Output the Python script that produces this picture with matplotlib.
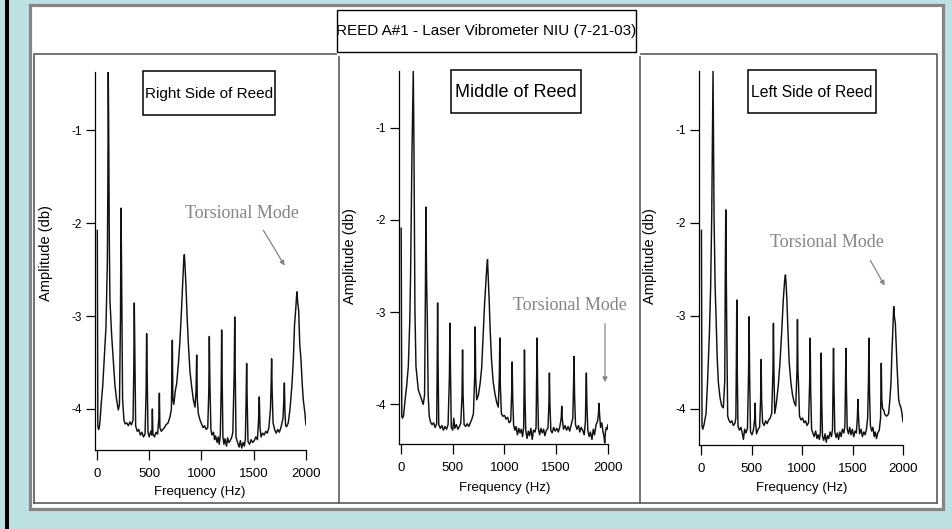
import matplotlib
matplotlib.use('Agg')
import matplotlib.pyplot as plt
from matplotlib.patches import Rectangle, FancyArrowPatch
from matplotlib.lines import Line2D

# spectra: (frequency Hz, amplitude db)
right_trace = [
    (3, -2.08), (8, -4.18), (15, -4.22), (22, -4.20), (30, -4.12), (40, -3.95), (55, -3.75),
    (70, -3.45), (86, -3.12), (95, -2.6), (99, -2.43), (104, -1.6), (108, -0.37), (112, -1.0),
    (118, -2.2), (124, -2.83), (140, -3.2), (156, -3.47), (172, -3.75), (188, -3.90), (204, -4.01),
    (215, -3.95), (225, -3.0), (230, -1.84), (236, -2.6), (245, -3.9), (258, -4.12), (270, -4.16),
    (285, -4.15), (300, -4.18), (315, -4.14), (330, -4.17), (345, -4.12), (352, -3.6), (357, -2.86),
    (362, -3.4), (370, -4.18), (385, -4.24), (400, -4.22), (415, -4.28), (430, -4.25), (445, -4.30),
    (460, -4.27), (470, -3.8), (475, -3.19), (480, -3.6), (488, -4.25), (500, -4.30), (515, -4.24),
    (525, -4.28), (530, -4.0), (535, -4.27), (550, -4.30), (565, -4.25), (580, -4.27), (592, -4.1),
    (597, -3.83), (602, -4.2), (615, -4.24), (630, -4.22), (645, -4.20), (660, -4.17), (680, -4.15),
    (700, -4.08), (712, -4.0), (717, -3.6), (721, -3.26), (726, -3.9), (735, -3.95), (750, -3.80),
    (762, -3.73), (780, -3.50), (794, -3.26), (808, -2.95), (820, -2.65), (830, -2.4), (836, -2.34),
    (842, -2.45), (852, -2.69), (862, -3.0), (874, -3.29), (890, -3.6), (906, -3.76), (922, -3.9),
    (938, -3.98), (948, -3.8), (954, -3.42), (960, -3.9), (970, -4.05), (986, -4.12), (1000, -4.16),
    (1015, -4.20), (1030, -4.18), (1045, -4.22), (1060, -4.20), (1070, -3.8), (1075, -3.22),
    (1080, -3.7), (1090, -4.22), (1100, -4.28), (1115, -4.25), (1125, -4.33), (1135, -4.29),
    (1150, -4.36), (1160, -4.30), (1170, -4.38), (1180, -4.28), (1188, -3.8), (1193, -3.15),
    (1198, -3.7), (1205, -4.30), (1215, -4.38), (1225, -4.32), (1240, -4.40), (1250, -4.31),
    (1262, -4.36), (1275, -4.34), (1290, -4.30), (1300, -4.25), (1313, -3.6), (1318, -3.01),
    (1323, -3.6), (1330, -4.30), (1345, -4.36), (1360, -4.41), (1372, -4.34), (1385, -4.42),
    (1398, -4.36), (1410, -4.40), (1420, -4.32), (1427, -3.9), (1432, -3.51), (1437, -3.9),
    (1445, -4.35), (1460, -4.38), (1475, -4.33), (1490, -4.36), (1505, -4.34), (1520, -4.30),
    (1535, -4.33), (1545, -4.15), (1553, -3.87), (1560, -4.2), (1570, -4.30), (1585, -4.26),
    (1600, -4.28), (1615, -4.24), (1630, -4.26), (1645, -4.20), (1660, -4.0), (1667, -3.7),
    (1671, -3.46), (1676, -3.8), (1685, -4.15), (1700, -4.22), (1715, -4.26), (1730, -4.22),
    (1745, -4.25), (1760, -4.20), (1780, -4.1), (1788, -3.9), (1793, -3.72), (1798, -4.0),
    (1805, -4.18), (1815, -4.19), (1830, -4.15), (1847, -4.0), (1865, -3.75), (1879, -3.47),
    (1890, -3.1), (1901, -2.94), (1910, -2.78), (1914, -2.74), (1920, -2.85), (1930, -2.94),
    (1940, -3.3), (1952, -3.47), (1965, -3.75), (1974, -3.90), (1983, -3.98), (1990, -4.05),
    (1995, -4.12), (2000, -4.17),
]

middle_trace = [
    (2, -2.09), (8, -4.13), (15, -4.15), (25, -4.12), (40, -3.95), (55, -3.8), (71, -3.59),
    (85, -3.1), (93, -2.58), (106, -1.3), (119, -0.38), (125, -1.13), (135, -3.0), (145, -3.59),
    (167, -3.84), (185, -3.9), (199, -3.95), (215, -4.0), (228, -3.9), (236, -2.8), (241, -1.86),
    (247, -2.6), (254, -3.05), (263, -3.9), (273, -4.13), (285, -4.19), (300, -4.22), (315, -4.20),
    (330, -4.25), (345, -4.21), (350, -3.6), (354, -2.90), (358, -3.5), (365, -4.22), (380, -4.26),
    (395, -4.23), (410, -4.28), (425, -4.24), (440, -4.27), (455, -4.22), (468, -3.7), (473, -3.12),
    (478, -3.6), (486, -4.25), (500, -4.28), (510, -4.15), (520, -4.26), (535, -4.22), (550, -4.27),
    (565, -4.24), (578, -4.20), (590, -3.9), (595, -3.41), (600, -3.9), (610, -4.22), (625, -4.24),
    (640, -4.21), (655, -4.24), (670, -4.20), (685, -4.16), (700, -4.10), (712, -3.7), (717, -3.16),
    (722, -3.7), (732, -3.95), (748, -3.90), (765, -3.77), (780, -3.6), (795, -3.23), (808, -2.9),
    (820, -2.69), (830, -2.5), (836, -2.43), (842, -2.6), (852, -2.87), (862, -3.2), (875, -3.52),
    (890, -3.75), (907, -3.88), (925, -3.98), (940, -4.03), (950, -3.7), (955, -3.28), (960, -3.8),
    (970, -4.10), (985, -4.13), (1000, -4.12), (1015, -4.16), (1030, -4.14), (1045, -4.20),
    (1060, -4.18), (1069, -3.9), (1074, -3.54), (1079, -3.9), (1088, -4.22), (1100, -4.28),
    (1112, -4.24), (1125, -4.33), (1138, -4.26), (1150, -4.31), (1162, -4.27), (1175, -4.35),
    (1185, -4.25), (1189, -3.9), (1193, -3.41), (1198, -3.9), (1205, -4.28), (1218, -4.37),
    (1230, -4.29), (1242, -4.34), (1255, -4.26), (1268, -4.38), (1280, -4.28), (1295, -4.30),
    (1305, -4.25), (1310, -3.8), (1315, -3.28), (1320, -3.8), (1328, -4.27), (1340, -4.33),
    (1352, -4.26), (1365, -4.31), (1378, -4.27), (1390, -4.34), (1405, -4.28), (1420, -4.26),
    (1429, -4.0), (1434, -3.66), (1439, -4.0), (1448, -4.28), (1460, -4.31), (1475, -4.25),
    (1490, -4.29), (1505, -4.26), (1520, -4.30), (1535, -4.24), (1548, -4.15), (1553, -4.02),
    (1558, -4.15), (1570, -4.27), (1585, -4.23), (1600, -4.28), (1615, -4.24), (1630, -4.29),
    (1645, -4.22), (1660, -4.15), (1667, -3.8), (1672, -3.48), (1677, -3.9), (1686, -4.22),
    (1700, -4.27), (1715, -4.23), (1728, -4.30), (1740, -4.25), (1755, -4.28), (1770, -4.33),
    (1782, -4.18), (1786, -3.9), (1791, -3.66), (1796, -4.0), (1805, -4.28), (1818, -4.35),
    (1830, -4.30), (1845, -4.38), (1858, -4.27), (1870, -4.33), (1885, -4.22), (1900, -4.18),
    (1908, -4.1), (1913, -3.99), (1918, -4.1), (1928, -4.25), (1940, -4.20), (1952, -4.30),
    (1962, -4.35), (1968, -4.42), (1975, -4.30), (1985, -4.25), (1993, -4.27), (2000, -4.22),
]

left_trace = [
    (4, -2.08), (10, -4.19), (18, -4.22), (30, -4.17), (50, -4.05), (65, -3.7), (83, -3.19),
    (95, -2.7), (106, -1.93), (119, -0.36), (129, -1.93), (140, -2.7), (149, -3.01), (160, -3.45),
    (172, -3.72), (188, -3.88), (205, -3.97), (221, -3.99), (235, -3.7), (240, -2.6), (245, -1.86),
    (250, -2.5), (255, -3.19), (264, -4.08), (275, -4.12), (290, -4.15), (305, -4.13), (320, -4.18),
    (335, -4.16), (345, -4.1), (350, -3.5), (354, -2.83), (358, -3.5), (366, -4.19), (380, -4.23),
    (395, -4.20), (410, -4.27), (420, -4.33), (432, -4.22), (445, -4.26), (460, -4.21), (471, -3.6),
    (476, -3.01), (481, -3.6), (490, -4.25), (505, -4.28), (520, -4.22), (532, -4.1), (536, -3.94),
    (540, -4.15), (550, -4.27), (565, -4.22), (580, -4.20), (590, -3.9), (595, -3.47), (600, -3.9),
    (610, -4.15), (625, -4.18), (640, -4.13), (655, -4.16), (670, -4.12), (685, -4.10), (700, -4.05),
    (712, -3.6), (717, -3.08), (722, -3.6), (730, -4.05), (745, -3.95), (765, -3.75), (782, -3.50),
    (800, -3.15), (815, -2.82), (828, -2.62), (836, -2.56), (842, -2.65), (850, -2.82), (862, -3.2),
    (873, -3.5), (890, -3.72), (906, -3.85), (922, -3.93), (938, -3.97), (950, -3.6), (955, -3.04),
    (960, -3.6), (965, -3.72), (975, -4.08), (990, -4.12), (1005, -4.10), (1020, -4.15),
    (1035, -4.13), (1050, -4.18), (1065, -4.15), (1076, -3.7), (1081, -3.24), (1086, -3.8),
    (1095, -4.22), (1108, -4.26), (1120, -4.30), (1135, -4.24), (1148, -4.32), (1160, -4.28),
    (1172, -4.33), (1182, -4.26), (1186, -3.9), (1190, -3.40), (1195, -3.9), (1203, -4.30),
    (1215, -4.34), (1228, -4.27), (1240, -4.36), (1252, -4.29), (1265, -4.32), (1278, -4.25),
    (1292, -4.30), (1302, -4.22), (1307, -3.8), (1312, -3.35), (1317, -3.8), (1325, -4.25),
    (1338, -4.31), (1350, -4.26), (1362, -4.33), (1375, -4.25), (1388, -4.30), (1400, -4.22),
    (1415, -4.26), (1425, -4.18), (1430, -3.8), (1435, -3.35), (1440, -3.8), (1448, -4.22),
    (1460, -4.27), (1472, -4.20), (1485, -4.28), (1498, -4.22), (1512, -4.30), (1525, -4.24),
    (1538, -4.26), (1548, -4.10), (1554, -3.90), (1560, -4.10), (1570, -4.27), (1585, -4.22),
    (1598, -4.30), (1612, -4.25), (1625, -4.28), (1638, -4.22), (1650, -4.10), (1658, -3.7),
    (1663, -3.24), (1668, -3.8), (1677, -4.18), (1690, -4.24), (1702, -4.20), (1715, -4.30),
    (1725, -4.25), (1738, -4.32), (1750, -4.26), (1765, -4.23), (1778, -4.10), (1785, -3.51),
    (1790, -3.9), (1798, -4.0), (1808, -4.01), (1820, -4.06), (1835, -4.08), (1848, -4.07),
    (1858, -4.05), (1870, -3.9), (1881, -3.72), (1890, -3.4), (1898, -3.19), (1904, -3.0),
    (1908, -2.90), (1914, -3.0), (1924, -3.08), (1932, -3.3), (1941, -3.54), (1950, -3.75),
    (1957, -3.90), (1966, -3.95), (1974, -3.97), (1982, -4.0), (1990, -4.05), (1995, -4.10),
    (2000, -4.14),
]

panel_titles = ["Right Side of Reed", "Middle of Reed", "Left Side of Reed"]
main_title = "REED A#1 - Laser Vibrometer NIU (7-21-03)"
x_ticks = [0, 500, 1000, 1500, 2000]
y_ticks = [-4, -3, -2, -1]
y_ticklabels = ["-4", "-3", "-2", "-1"]
note = "Torsional Mode"

W, H = 952, 529
SANS = ['Liberation Sans', 'DejaVu Sans']
SERIF = ['Liberation Serif', 'DejaVu Serif']
BG = '#bde0e3'


def fx(x):
    return x / W


def fy(y):
    return 1 - y / H


def box(x0, y0, x1, y1, **kw):
    fig.add_artist(Rectangle((fx(x0), fy(y1)), (x1 - x0) / W, (y1 - y0) / H,
                             transform=fig.transFigure, **kw))


def line(xs, ys, **kw):
    fig.add_artist(Line2D([fx(x) for x in xs], [fy(y) for y in ys],
                          transform=fig.transFigure, **kw))


fig = plt.figure(figsize=(W / 100, H / 100), dpi=100)
fig.patch.set_facecolor(BG)

# black strip on the left edge and white board with grey border (kept under the axes)
box(5, 0, 8.5, H, facecolor='black', edgecolor='none', zorder=-10)
box(29.5, 4.5, 942.5, 508.5, facecolor='white', edgecolor='#858585', lw=2.3, zorder=-9)

# panel frames
frame = dict(color='#5a5a5a', lw=1.2, zorder=-8)
line([34, 34, 336], [503, 54, 54], **frame)
line([34, 937], [503, 503], **frame)
line([339, 339], [57, 503], **frame)
line([639.5, 639.5], [57, 503], **frame)
line([641, 937, 937], [54, 54, 503], **frame)

# main title box
box(337, 10, 636, 52, facecolor='white', edgecolor='black', lw=1.0, zorder=-7)
fig.text(fx(486.5), fy(31), main_title, ha='center', va='center',
         family=SANS, fontsize=11)

# layout of each panel: axes pixel extents, limits, sub-title box, notes
panels = [
    dict(trace=right_trace, ext=(95, 306, 72, 450), xlim=(-19, 2000), ylim=(-4.441, -0.376),
         tbox=(143, 71, 275, 115), tsize=11, ylab=(46, 253), xlab=(200, 492),
         note=(242, 214), arrow=((262, 228), (286, 268))),
    dict(trace=middle_trace, ext=(399, 608, 71, 444), xlim=(-19, 2000), ylim=(-4.43, -0.385),
         tbox=(451, 70, 581, 113), tsize=13, ylab=(350, 256), xlab=(505, 488),
         note=(570, 306), arrow=((605, 321), (605, 385))),
    dict(trace=left_trace, ext=(699, 903, 71, 445), xlim=(-20, 2000), ylim=(-4.39, -0.366),
         tbox=(748, 70, 876, 113), tsize=11.3, ylab=(650, 256), xlab=(802, 488),
         note=(827, 243), arrow=((869, 258), (886, 288))),
]

for p, title in zip(panels, panel_titles):
    x0, x1, y0, y1 = p['ext']
    ax = fig.add_axes([fx(x0), fy(y1), (x1 - x0) / W, (y1 - y0) / H])
    ax.patch.set_alpha(0)
    freq, amp = zip(*p['trace'])
    ax.plot(freq, amp, color='#111111', lw=1.05)
    ax.set_xlim(*p['xlim'])
    ax.set_ylim(*p['ylim'])
    for s in ('top', 'right'):
        ax.spines[s].set_visible(False)
    for s in ('left', 'bottom'):
        ax.spines[s].set_linewidth(0.9)
    ax.set_xticks(x_ticks)
    ax.set_xticklabels([str(t) for t in x_ticks], family=SANS, fontsize=9.5)
    ax.set_yticks(y_ticks)
    ax.set_yticklabels(y_ticklabels, family=SANS, fontsize=8.5)
    ax.tick_params(axis='x', length=7, width=0.9, pad=6)
    ax.tick_params(axis='y', length=6.5, width=0.9, pad=3)

    fig.text(fx(p['ylab'][0]), fy(p['ylab'][1]), "Amplitude (db)", rotation=90,
             ha='center', va='center', family=SANS, fontsize=10.5)
    fig.text(fx(p['xlab'][0]), fy(p['xlab'][1]), "Frequency (Hz)",
             ha='center', va='center', family=SANS, fontsize=9.5)

    bx0, by0, bx1, by1 = p['tbox']
    box(bx0, by0, bx1, by1, facecolor='white', edgecolor='black', lw=1.1, zorder=-7)
    fig.text(fx((bx0 + bx1) / 2), fy((by0 + by1) / 2 + 1), title, ha='center', va='center',
             family=SANS, fontsize=p['tsize'])

    fig.text(fx(p['note'][0]), fy(p['note'][1]), note, ha='center', va='center',
             family=SERIF, fontsize=13, color='#858585')
    (ax0, ay0), (ax1, ay1) = p['arrow']
    fig.add_artist(FancyArrowPatch(
        (fx(ax0), fy(ay0)), (fx(ax1), fy(ay1)), transform=fig.transFigure,
        arrowstyle='-|>', mutation_scale=7, color='#858585', lw=0.9))

fig.savefig('out.png', dpi=100, facecolor=BG)
